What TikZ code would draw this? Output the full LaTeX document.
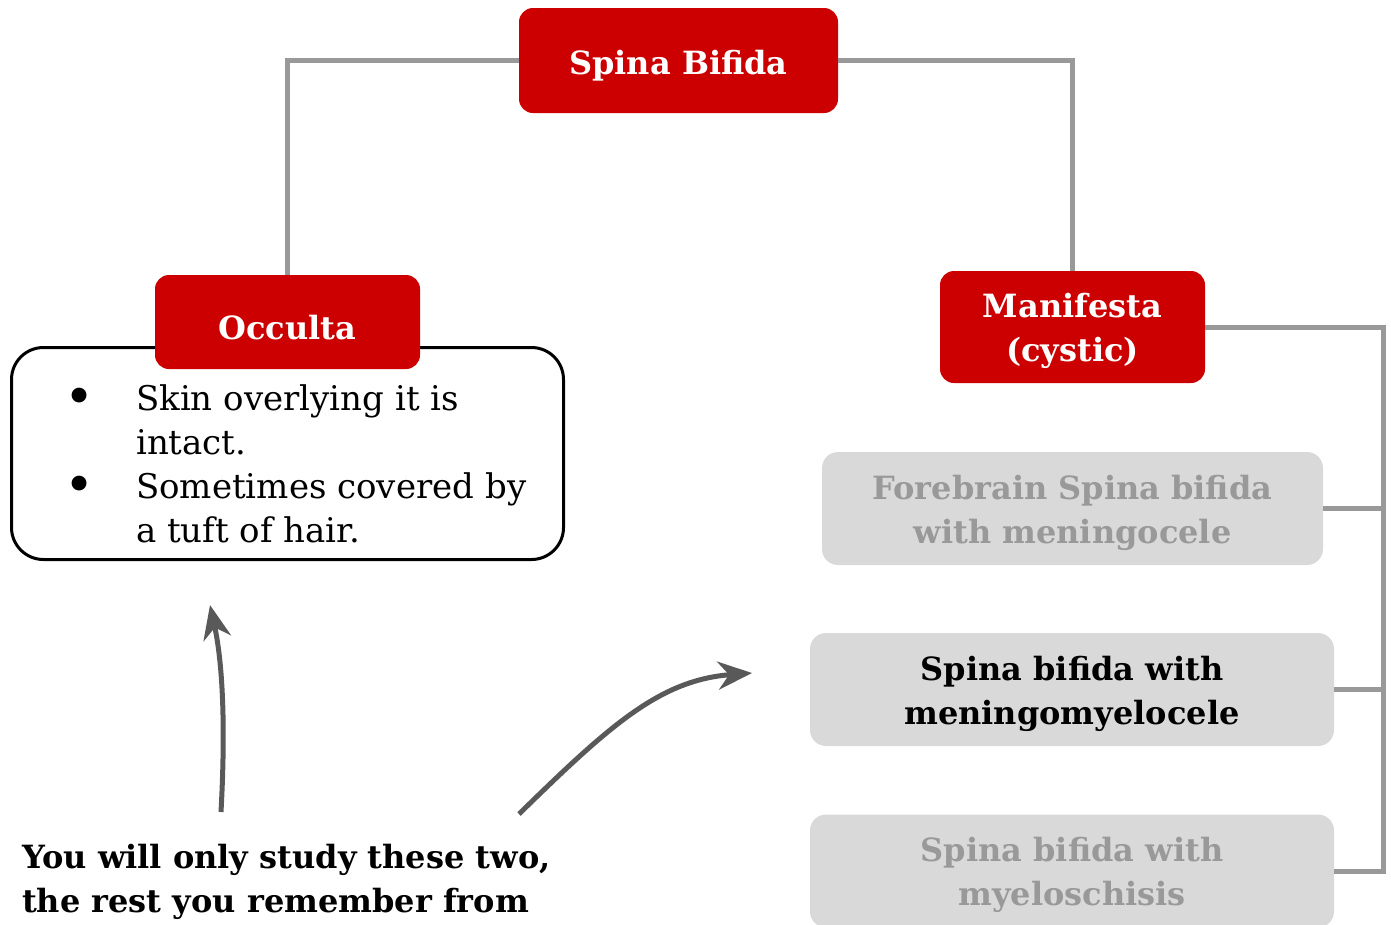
\documentclass[tikz,border=0pt]{standalone}
\usepackage{fontspec}
\setmainfont{DejaVu Serif}
\usetikzlibrary{arrows.meta}
\definecolor{boxred}{HTML}{CC0000}
\definecolor{linegray}{HTML}{999999}
\definecolor{boxgray}{HTML}{D9D9D9}
\definecolor{arrowgray}{HTML}{595959}

\begin{document}
\begin{tikzpicture}[x=1pt,y=-1pt,
    redbox/.style={fill=boxred,text=white,rounded corners=14pt,align=center,inner sep=0pt,
      font=\bfseries\fontsize{32}{44}\selectfont,execute at begin node={\rule{0pt}{35pt}}},
    greybox/.style={fill=boxgray,rounded corners=16pt,align=center,inner sep=0pt,
      minimum width=524pt,minimum height=113pt,font=\bfseries\fontsize{32}{44}\selectfont},
    twoline/.style={execute at begin node={\rule{0pt}{77pt}}},
    link/.style={draw=linegray,line width=5pt},
    pointer/.style={draw=arrowgray,line width=5pt,-{Stealth[length=34pt,width=28pt,inset=11pt]}}]
  \useasboundingbox (0,0) rectangle (1391,924);

      \node[redbox,minimum width=319pt,minimum height=105pt] (1) at (678.5,60.5) {Spina Bifida};
      \node[draw=black,line width=3pt,rounded corners=32pt,minimum width=552pt,minimum height=212pt] (7) at (287.5,453.5) {};
      \node[redbox,minimum width=265pt,minimum height=94pt] (2) at (287.5,322) {Occulta};
      \node[anchor=west,inner sep=0pt,font=\fontsize{34}{44}\selectfont] (8) at (64,468)
        {\begin{tabular}{@{}p{72pt}@{}l@{}}
          \raisebox{-4pt}{\scalebox{1.5}{\textbullet}} & Skin overlying it is\\
                      & intact.\\
          \raisebox{-4pt}{\scalebox{1.5}{\textbullet}} & Sometimes covered by\\
                      & a tuft of hair.
        \end{tabular}};
      \node[redbox,twoline,minimum width=265pt,minimum height=112pt] (3) at (1072.5,327) {Manifesta\\(cystic)};
      \node[greybox,twoline,minimum width=501pt,text=linegray] (4) at (1072.5,508.5) {Forebrain Spina bifida\\with meningocele};
      \node[greybox,twoline] (5) at (1072,689.5) {Spina bifida with\\meningomyelocele};
      \node[greybox,twoline,text=linegray] (6) at (1072,871) {Spina bifida with\\myeloschisis};
      \node[anchor=west,align=left,inner sep=0pt,font=\bfseries\fontsize{32}{44}\selectfont] (9) at (22,882)
        {You will only study these two,\\the rest you remember from};

      \draw[link] (1.west) -| (2.north);
      \draw[link] (1.east) -| (3.north);
      \path ([xshift=49pt]6.east) coordinate (spine);
      \draw[link] (3.east) -| (spine) -- (6.east);
      \draw[link] (4.east) -- (4.east -| spine);
      \draw[link] (5.east) -- (5.east -| spine);

      \coordinate (10) at (221,812);
      \coordinate (11) at (210,605);
      \coordinate (12) at (519,814);
      \coordinate (13) at (752,673);
      \draw[pointer] (10) .. controls (226,720) and (222,660) .. (11);
      \draw[pointer] (12) .. controls (610,725) and (660,680) .. (13);
    \end{tikzpicture}
\end{document}
